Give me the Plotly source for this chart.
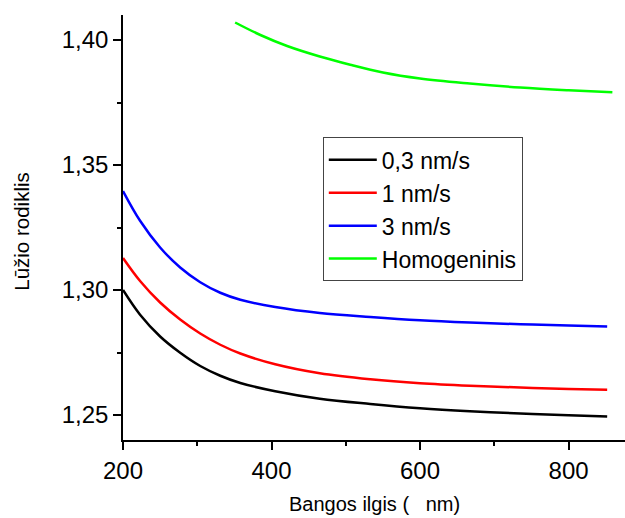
import plotly.graph_objects as go

# Wavelength (nm) sample points
wl = [200, 223, 250, 277, 304, 331, 358, 405, 465, 533, 600, 667, 735, 800, 852]
n_03 = [1.3000, 1.2901, 1.2814, 1.2749, 1.2696, 1.2657, 1.2628, 1.2595, 1.2565,
        1.2544, 1.2527, 1.2515, 1.2506, 1.2499, 1.2494]
n_1 = [1.3128, 1.3036, 1.2950, 1.2882, 1.2826, 1.2781, 1.2746, 1.2703, 1.2667,
       1.2643, 1.2627, 1.2617, 1.2610, 1.2604, 1.2601]
n_3 = [1.3396, 1.3277, 1.3170, 1.3090, 1.3031, 1.2989, 1.2961, 1.2932, 1.2908,
       1.2892, 1.2879, 1.2870, 1.2863, 1.2858, 1.2854]

wl_h = [351, 385, 421, 465, 506, 550, 600, 667, 735, 800, 859]
n_h = [1.4070, 1.4020, 1.3976, 1.3934, 1.3901, 1.3870, 1.3846, 1.3826, 1.3810,
       1.3799, 1.3791]

names = ["0,3 nm/s", "1 nm/s", "3 nm/s", "Homogeninis"]
colors = ["#000000", "#FF0000", "#0000FF", "#00FF00"]

x_ticks = [200, 400, 600, 800]
y_ticks = [1.25, 1.30, 1.35, 1.40]

FONT = "Liberation Sans, Arial, sans-serif"

fig = go.Figure()
for xs, ys, nm, c in [(wl, n_03, names[0], colors[0]),
                      (wl, n_1, names[1], colors[1]),
                      (wl, n_3, names[2], colors[2]),
                      (wl_h, n_h, names[3], colors[3])]:
    fig.add_trace(go.Scatter(x=xs, y=ys, mode="lines", name=nm,
                             line=dict(color=c, width=2.5, shape="spline",
                                       smoothing=1.0)))

fig.update_layout(
    width=625, height=518,
    margin=dict(l=123, r=0, t=15, b=78),
    paper_bgcolor="white", plot_bgcolor="white",
    separators=",.",
    font=dict(family=FONT, color="black", size=24),
    showlegend=True,
    legend=dict(x=0.398, y=0.712, xanchor="left", yanchor="top",
                bgcolor="white", bordercolor="#444", borderwidth=1,
                font=dict(size=23, family=FONT), itemwidth=48,
                tracegroupgap=0),
    xaxis=dict(range=[200, 876], showline=True, linecolor="black", linewidth=1.5,
               showgrid=False, zeroline=False, ticks="outside", ticklen=8,
               tickwidth=1.5, tickcolor="black", tickvals=x_ticks,
               tickfont=dict(size=24),
               minor=dict(ticks="outside", ticklen=4, tickwidth=1.5,
                          tickcolor="black", dtick=100, tick0=200)),
    yaxis=dict(range=[1.24, 1.41], showline=True, linecolor="black", linewidth=1.5,
               showgrid=False, zeroline=False, ticks="outside", ticklen=8,
               tickwidth=1.5, tickcolor="black", tickvals=y_ticks,
               tickformat=".2f", tickfont=dict(size=24),
               minor=dict(ticks="outside", ticklen=4, tickwidth=1.5,
                          tickcolor="black", dtick=0.025, tick0=1.225)),
    annotations=[
        dict(text="Bangos ilgis (   nm)", xref="paper", yref="paper",
             x=0.5, y=0, yshift=-77, xanchor="center", yanchor="bottom",
             showarrow=False, font=dict(size=20, family=FONT)),
        dict(text="Lūžio rodiklis", xref="paper", yref="paper",
             x=0, xshift=-101, y=0.49, xanchor="center", yanchor="middle",
             textangle=-90, showarrow=False, font=dict(size=20.5, family=FONT)),
    ],
)

fig.write_html("out.html")
